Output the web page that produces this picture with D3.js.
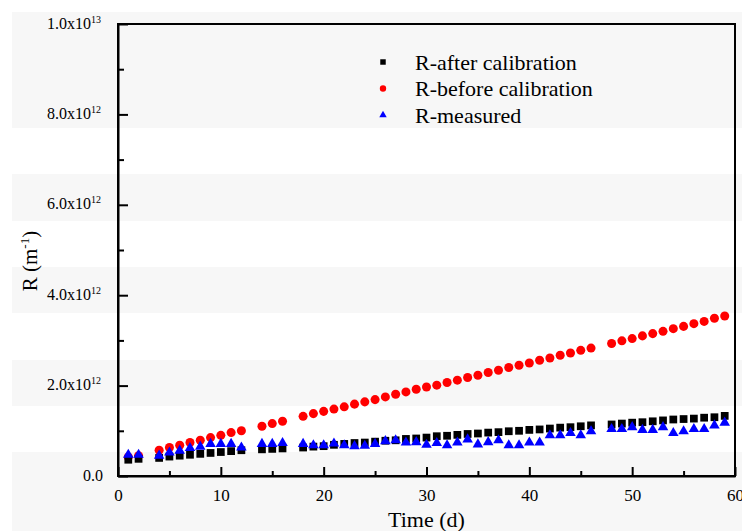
<!DOCTYPE html>
<html>
<head>
<meta charset="utf-8">
<script src="https://cdn.jsdelivr.net/npm/d3@7"></script>
<style>
  body { margin: 0; background: #fff; }
  svg { display: block; }
  text { font-family: "Liberation Serif", "Times New Roman", serif; fill: #000; }
</style>
</head>
<body>
<div id="chart"></div>
<script>
/* Data (R in m^-1) */
var days = [1, 2, 4, 5, 6, 7, 8, 9, 10, 11, 12, 14, 15, 16,
  18, 19, 20, 21, 22, 23, 24, 25, 26, 27, 28, 29, 30, 31, 32, 33, 34, 35, 36, 37, 38, 39, 40, 41, 42, 43, 44, 45, 46,
  48, 49, 50, 51, 52, 53, 54, 55, 56, 57, 58, 59]

var rAfter = [0.36e12, 0.38e12, 0.40e12, 0.43e12, 0.45e12, 0.47e12, 0.49e12, 0.51e12, 0.53e12, 0.55e12, 0.57e12, 0.59e12, 0.60e12, 0.61e12,
  0.63e12, 0.65e12, 0.66e12, 0.69e12, 0.71e12, 0.73e12, 0.74e12, 0.76e12, 0.78e12, 0.79e12, 0.82e12, 0.83e12, 0.85e12, 0.88e12, 0.89e12,
  0.91e12, 0.93e12, 0.94e12, 0.96e12, 0.97e12, 0.99e12, 1.00e12, 1.02e12, 1.03e12, 1.05e12, 1.07e12, 1.08e12, 1.10e12, 1.12e12,
  1.14e12, 1.16e12, 1.18e12, 1.19e12, 1.21e12, 1.23e12, 1.25e12, 1.26e12, 1.27e12, 1.29e12, 1.30e12, 1.33e12]

var rBefore = [0.42e12, 0.45e12, 0.57e12, 0.63e12, 0.68e12, 0.74e12, 0.79e12, 0.85e12, 0.90e12, 0.96e12, 1.00e12, 1.10e12, 1.16e12, 1.21e12,
  1.32e12, 1.38e12, 1.43e12, 1.48e12, 1.53e12, 1.59e12, 1.64e12, 1.69e12, 1.75e12, 1.81e12, 1.86e12, 1.92e12, 1.97e12, 2.01e12, 2.07e12,
  2.12e12, 2.18e12, 2.23e12, 2.29e12, 2.34e12, 2.40e12, 2.45e12, 2.50e12, 2.56e12, 2.61e12, 2.67e12, 2.72e12, 2.78e12, 2.83e12,
  2.93e12, 2.99e12, 3.04e12, 3.10e12, 3.15e12, 3.20e12, 3.26e12, 3.31e12, 3.37e12, 3.42e12, 3.49e12, 3.54e12]

var rMeasured = [0.47e12, 0.47e12, 0.45e12, 0.52e12, 0.56e12, 0.62e12, 0.65e12, 0.71e12, 0.71e12, 0.71e12, 0.63e12, 0.71e12, 0.71e12, 0.73e12,
  0.71e12, 0.68e12, 0.68e12, 0.72e12, 0.68e12, 0.66e12, 0.67e12, 0.71e12, 0.77e12, 0.79e12, 0.74e12, 0.75e12, 0.69e12, 0.73e12, 0.68e12,
  0.74e12, 0.81e12, 0.70e12, 0.75e12, 0.79e12, 0.68e12, 0.68e12, 0.74e12, 0.74e12, 0.90e12, 0.90e12, 0.95e12, 0.90e12, 0.99e12,
  1.04e12, 1.04e12, 1.08e12, 1.02e12, 1.02e12, 1.08e12, 0.95e12, 0.99e12, 1.04e12, 1.04e12, 1.12e12, 1.18e12]

var xTicks = [0, 10, 20, 30, 40, 50, 60]
var yTicks = [0, 2e12, 4e12, 6e12, 8e12, 1e13]
var yTickLabels = [["0.0", ""], ["2.0x10", "12"], ["4.0x10", "12"], ["6.0x10", "12"], ["8.0x10", "12"], ["1.0x10", "13"]]
var legendNames = ["R-after calibration", "R-before calibration", "R-measured"]

/* Layout */
var width = 742, height = 531
var margin = { left: 118, top: 24, right: 7, bottom: 55 }
var plotW = width - margin.left - margin.right
var plotH = height - margin.top - margin.bottom

var svg = d3.select('#chart').append('svg')
  .attr('width', width)
  .attr('height', height)

// faint scanner bands in the background of the original figure
var bands = [[12, 128], [174, 221], [267, 313], [360, 406], [452, 531]]
svg.selectAll('.band')
  .data(bands)
  .enter().append('rect')
  .attr('class', 'band')
  .attr('x', 12)
  .attr('y', d => d[0])
  .attr('width', width - 12)
  .attr('height', d => d[1] - d[0])
  .attr('fill', '#f7f7f7')

var x = d3.scaleLinear().domain([0, 60]).range([0, plotW])
var y = d3.scaleLinear().domain([0, 1e13]).range([plotH, 0])

var g = svg.append('g').attr('transform', `translate(${margin.left},${margin.top})`)

// minor ticks first, major ticks on top
g.append('g')
  .attr('transform', `translate(0,${plotH})`)
  .call(d3.axisBottom(x).tickValues(d3.range(5, 60, 10)).tickSizeInner(-5).tickSizeOuter(0).tickFormat(''))
  .call(a => a.select('.domain').remove())
g.append('g')
  .call(d3.axisLeft(y).tickValues(d3.range(1e12, 1e13, 2e12)).tickSizeInner(-6).tickSizeOuter(0).tickFormat(''))
  .call(a => a.select('.domain').remove())

var xAxis = g.append('g')
  .attr('transform', `translate(0,${plotH})`)
  .call(d3.axisBottom(x).tickValues(xTicks).tickSizeInner(-9).tickSizeOuter(0).tickPadding(13))
xAxis.selectAll('text').style('font-size', '17px').attr('font-family', null)

var yAxis = g.append('g')
  .call(d3.axisLeft(y).tickValues(yTicks).tickSizeInner(-10).tickSizeOuter(0).tickPadding(17).tickFormat(''))
yAxis.selectAll('.tick text').each(function (d, i) {
  var t = d3.select(this).attr('dy', null).attr('y', 4).style('font-size', '16px')
  var lab = yTickLabels[i]
  t.append('tspan').text(lab[0])
  if (lab[1]) t.append('tspan').attr('dy', -6).style('font-size', '10px').text(lab[1])
})
if (yTickLabels[0][1] === '') yAxis.select('.tick text').attr('x', -15)

g.selectAll('.domain, .tick line').attr('stroke', '#000').attr('stroke-width', 2)

// frame
g.append('rect')
  .attr('width', plotW)
  .attr('height', plotH)
  .attr('fill', 'none')
  .attr('stroke', '#000')
  .attr('stroke-width', 2)

// series: drawn red, black, blue
var series = [
  { name: legendNames[1], values: rBefore, color: '#ff0000', shape: d3.symbolCircle, size: 64 },
  { name: legendNames[0], values: rAfter, color: '#000000', shape: d3.symbolSquare, size: 60 },
  { name: legendNames[2], values: rMeasured, color: '#0000ff', shape: d3.symbolTriangle, size: 48 }
]

series.forEach(s => {
  g.append('g').selectAll('path')
    .data(days)
    .enter().append('path')
    .attr('d', d3.symbol().type(s.shape).size(s.size))
    .attr('transform', (d, i) => `translate(${x(d)},${y(s.values[i])})`)
    .attr('fill', s.color)
})

// legend
var legendItems = [series[1], series[0], series[2]]
var legend = svg.append('g')
legendItems.forEach((s, i) => {
  var row = legend.append('g').attr('transform', `translate(383,${62 + i * 26.5})`)
  row.append('path')
    .attr('d', d3.symbol().type(s.shape).size(s.size * 0.5))
    .attr('fill', s.color)
  row.append('text')
    .attr('x', 32)
    .attr('dy', '0.35em')
    .style('font-size', '22px')
    .text(s.name)
})

// axis titles
svg.append('text')
  .attr('x', margin.left + plotW / 2)
  .attr('y', 527)
  .attr('text-anchor', 'middle')
  .style('font-size', '22px')
  .text('Time (d)')

var yTitle = svg.append('text')
  .attr('transform', 'translate(37,261) rotate(-90)')
  .attr('text-anchor', 'middle')
  .style('font-size', '21px')
yTitle.append('tspan').text('R (m')
yTitle.append('tspan').attr('dy', -8).style('font-size', '13px').text('-1')
yTitle.append('tspan').attr('dy', 8).text(')')
</script>
</body>
</html>
